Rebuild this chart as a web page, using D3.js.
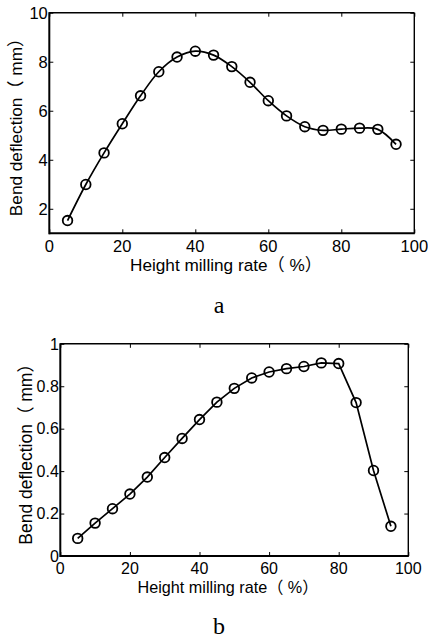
<!DOCTYPE html>
<html><head><meta charset="utf-8">
<script src="https://cdn.jsdelivr.net/npm/d3@7"></script>
<style>body{margin:0;background:#fff}svg{display:block}</style>
</head><body>
<svg id="c" width="428" height="643"></svg>
<script>
const millingRate = [5,10,15,20,25,30,35,40,45,50,55,60,65,70,75,80,85,90,95];
const deflectionA = [1.52,2.99,4.28,5.47,6.61,7.59,8.19,8.43,8.27,7.80,7.16,6.41,5.79,5.35,5.20,5.25,5.29,5.24,4.63];
const deflectionB = [0.083,0.155,0.223,0.292,0.372,0.464,0.554,0.643,0.725,0.790,0.839,0.867,0.883,0.893,0.910,0.907,0.723,0.403,0.140];
const xTicks = [0,20,40,60,80,100];
const yTicksA = [2,4,6,8,10];
const yTicksB = [0,0.2,0.4,0.6,0.8,1];
const xLabel = "Height milling rate（ %）";
const yLabel = "Bend deflection（ mm）";
const panelLabels = ["a","b"];

const svg = d3.select("#c");
const sansFont = "'Liberation Sans', Arial, 'Noto Sans CJK SC', sans-serif";

function panel(cfg){
  const {left,right,top,bottom,yDomain,yTicks,values,curve,label,labelY,xLabelY,xLabelX,yLabelX,fmt,fs,xfs,yfs,tickDy} = cfg;
  const x = d3.scaleLinear().domain([0,100]).range([left,right]);
  const y = d3.scaleLinear().domain(yDomain).range([bottom,top]);
  const g = svg.append("g");
  const tl = 4;
  g.append("g").attr("transform",`translate(0,${bottom})`)
    .call(d3.axisTop(x).tickValues(xTicks).tickSize(tl).tickFormat(""))
    .call(a=>a.select(".domain").remove());
  g.append("g").attr("transform",`translate(0,${top})`)
    .call(d3.axisBottom(x).tickValues(xTicks).tickSize(tl).tickFormat(""))
    .call(a=>a.select(".domain").remove());
  g.append("g").attr("transform",`translate(${left},0)`)
    .call(d3.axisRight(y).tickValues(yTicks).tickSize(tl).tickFormat(""))
    .call(a=>a.select(".domain").remove());
  g.append("g").attr("transform",`translate(${right},0)`)
    .call(d3.axisLeft(y).tickValues(yTicks).tickSize(tl).tickFormat(""))
    .call(a=>a.select(".domain").remove());
  g.selectAll(".tick line").attr("stroke","#000").attr("stroke-width",1);
  // frame
  g.append("line").attr("x1",left).attr("x2",right).attr("y1",top).attr("y2",top).attr("stroke","#000").attr("stroke-width",1.4);
  g.append("line").attr("x1",right).attr("x2",right).attr("y1",top).attr("y2",bottom).attr("stroke","#000").attr("stroke-width",1.4);
  g.append("line").attr("x1",left).attr("x2",left).attr("y1",top-0.5).attr("y2",bottom+1).attr("stroke","#000").attr("stroke-width",2);
  g.append("line").attr("x1",left).attr("x2",right+0.5).attr("y1",bottom).attr("y2",bottom).attr("stroke","#000").attr("stroke-width",2);
  // tick labels
  g.selectAll(".xt").data(xTicks).join("text").attr("class","xt")
    .attr("x",d=>x(d)).attr("y",bottom+tickDy).attr("text-anchor","middle")
    .attr("font-family",sansFont).attr("font-size",fs).text(d=>d);
  g.selectAll(".yt").data(yTicks).join("text").attr("class","yt")
    .attr("x",left-1.5).attr("y",d=>y(d)+fs*0.36).attr("text-anchor","end")
    .attr("font-family",sansFont).attr("font-size",fs).text(fmt);
  // axis labels
  g.append("text").attr("x",xLabelX).attr("y",xLabelY).attr("text-anchor","middle")
    .attr("font-family",sansFont).attr("font-size",xfs).text(xLabel);
  g.append("text").attr("transform",`translate(${yLabelX},${(top+bottom)/2}) rotate(-90)`)
    .attr("text-anchor","middle").attr("font-family",sansFont).attr("font-size",yfs).text(yLabel);
  // line + markers
  const pts = millingRate.map((r,i)=>[r,values[i]]);
  g.append("path").datum(pts).attr("fill","none").attr("stroke","#000").attr("stroke-width",1.7)
    .attr("d",d3.line().x(d=>x(d[0])).y(d=>y(d[1])).curve(curve));
  g.selectAll("circle").data(pts).join("circle")
    .attr("cx",d=>x(d[0])).attr("cy",d=>y(d[1])).attr("r",4.8)
    .attr("fill","none").attr("stroke","#000").attr("stroke-width",1.8);
  // panel label
  svg.append("text").attr("x",219).attr("y",labelY).attr("text-anchor","middle")
    .attr("font-family","'Liberation Serif','Times New Roman',serif").attr("font-size",24).text(label);
}

panel({left:49.3,right:414.3,top:12.7,bottom:233.3,yDomain:[1,10],yTicks:yTicksA,values:deflectionA,
  curve:d3.curveCatmullRom.alpha(0.5),label:panelLabels[0],labelY:313,xLabelY:271.2,xLabelX:226,yLabelX:22,fmt:d=>d,
  fs:16.5,xfs:17.2,yfs:17.2,tickDy:18.3});
panel({left:60.3,right:408.3,top:343.8,bottom:556,yDomain:[0,1],yTicks:yTicksB,values:deflectionB,
  curve:d3.curveLinear,label:panelLabels[1],labelY:634,xLabelY:592.6,xLabelX:228,yLabelX:32,fmt:d=>d,
  fs:16,xfs:16.2,yfs:17.5,tickDy:18.3});
</script>
</body></html>
